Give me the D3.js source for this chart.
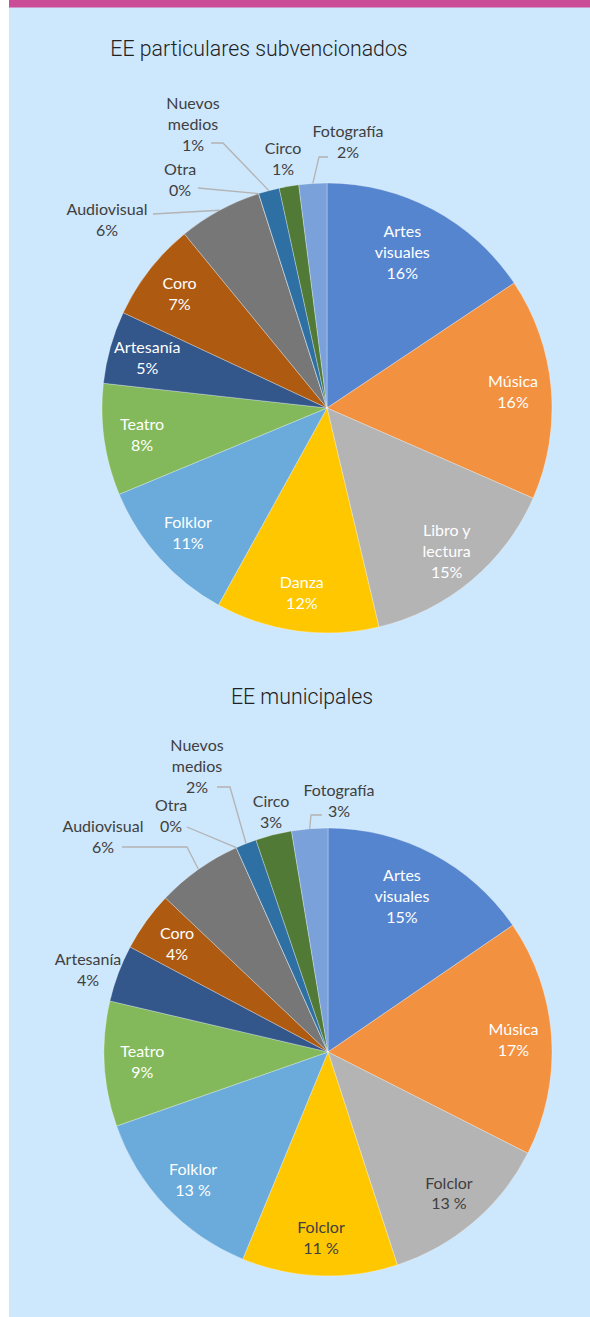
<!DOCTYPE html>
<html>
<head>
<meta charset="utf-8">
<script src="https://cdn.jsdelivr.net/npm/d3@7"></script>
<style>
  body { margin: 0; background: #fff; }
  svg { display: block; }
</style>
</head>
<body>
<div id="chart"></div>
<script>
// categories and values (share)
var namesA = ["Artes\nvisuales", "Música", "Libro y\nlectura", "Danza", "Folklor", "Teatro",
  "Artesanía", "Coro", "Audiovisual", "Otra", "Nuevos\nmedios", "Circo", "Fotografía"];
var valuesA = [15.6, 15.9, 14.7, 11.7, 10.7, 8.0, 5.2, 7.1, 6.0, 0, 1.5, 1.4, 2.0];
var pctA = ["16%", "16%", "15%", "12%", "11%", "8%", "5%", "7%", "6%", "0%", "1%", "1%", "2%"];

var namesB = ["Artes\nvisuales", "Música", "Folclor", "Folclor", "Folklor", "Teatro",
  "Artesanía", "Coro", "Audiovisual", "Otra", "Nuevos\nmedios", "Circo", "Fotografía"];
var valuesB = [15.4, 17.0, 12.5, 11.2, 13.4, 9.0, 4.1, 4.3, 6.2, 0, 1.5, 2.6, 2.6];
var pctB = ["15%", "17%", "13 %", "11 %", "13 %", "9%", "4%", "4%", "6%", "0%", "2%", "3%", "3%"];

var sliceColors = ["#5585cf", "#f2913f", "#b4b4b4", "#ffc700", "#6aabdc", "#83b95a",
  "#33578a", "#ae5a10", "#777777", "#a87f0a", "#2e70a3", "#527a37", "#7aa1da"];

// labels that sit outside the pie: text offset from centre, leader start, elbow x
var calloutsA = {
  8: { t: [-220, -188], s: [-174, -194] },
  9: { t: [-147, -228], s: [-129, -220] },
  10: { t: [-134, -284], s: [-116, -265], e: -104 },
  11: { t: [-44, -249] },
  12: { t: [21, -266], s: [1, -251], e: -8 }
};
var calloutsB = {
  6: { t: [-240, -82] },
  8: { t: [-225, -215], s: [-206, -205], e: -141 },
  9: { t: [-157, -236], s: [-141, -225] },
  10: { t: [-131, -286], s: [-111, -265], e: -98 },
  11: { t: [-57, -240] },
  12: { t: [11, -251], s: [-6, -237], e: -17 }
};

var width = 590, height = 1317;
var lineH = 20.8;

var svg = d3.select("#chart").append("svg")
  .attr("width", width)
  .attr("height", height);

svg.append("rect").attr("x", 9).attr("y", 0).attr("width", width - 9).attr("height", height)
  .attr("fill", "#cde7fd");
svg.append("rect").attr("x", 9).attr("y", 0).attr("width", width - 9).attr("height", 7.5)
  .attr("fill", "#cb4c97");

function drawPie(opts) {
  var r = opts.r;
  var g = svg.append("g").attr("transform", "translate(" + opts.cx + "," + opts.cy + ")");

  svg.append("text")
    .attr("x", opts.titleX)
    .attr("y", opts.titleY)
    .attr("text-anchor", "middle")
    .attr("font-family", "Roboto")
    .attr("font-weight", 300)
    .attr("font-size", 21.3)
    .attr("fill", "#222")
    .text(opts.title);

  var pie = d3.pie().sort(null).value(d => d)(opts.values);
  var arc = d3.arc().innerRadius(0).outerRadius(r);

  g.selectAll("path.slice")
    .data(pie)
    .join("path")
    .attr("class", "slice")
    .attr("d", arc)
    .attr("fill", (d, i) => sliceColors[i])
    .attr("stroke", "#ffffff")
    .attr("stroke-opacity", 0.5)
    .attr("stroke-width", 0.6);

  pie.forEach(function (d, i) {
    var c = opts.callouts[i];
    var lines = opts.names[i].split("\n").concat([opts.pct[i]]);
    var pos, fill;
    if (c) {
      pos = c.t;
      fill = "#404040";
      if (c.s) {
        var mid = (d.startAngle + d.endAngle) / 2;
        var edge = [Math.sin(mid) * r, -Math.cos(mid) * r];
        var pts = [c.s];
        if (c.e !== undefined) pts.push([c.e, c.s[1]]);
        pts.push(edge);
        g.append("path")
          .attr("d", d3.line()(pts))
          .attr("fill", "none")
          .attr("stroke", "#b3b3b3")
          .attr("stroke-width", 1.3);
      }
    } else {
      // first slice label sits a bit deeper, like the original
      var k = i === 0 ? 0.785 : 0.83;
      pos = d3.arc().innerRadius(r * k).outerRadius(r * k).centroid(d);
      if (i === 0) pos[0] -= 8;
      fill = opts.darkInside.indexOf(i) > -1 ? "#404040" : "#ffffff";
    }
    var t = g.append("text")
      .attr("text-anchor", "middle")
      .attr("font-family", "Lato")
      .attr("font-size", 16)
      .attr("fill", fill);
    lines.forEach(function (ln, j) {
      t.append("tspan")
        .attr("x", pos[0])
        .attr("y", pos[1] + (j - (lines.length - 1) / 2) * lineH)
        .attr("dy", "0.36em")
        .text(ln);
    });
  });
}

drawPie({
  title: "EE particulares subvencionados", titleX: 259, titleY: 56,
  cx: 327, cy: 408, r: 225,
  values: valuesA, names: namesA, pct: pctA,
  callouts: calloutsA, darkInside: []
});

drawPie({
  title: "EE municipales", titleX: 302, titleY: 704,
  cx: 328, cy: 1052, r: 224,
  values: valuesB, names: namesB, pct: pctB,
  callouts: calloutsB, darkInside: [2, 3]
});
</script>
</body>
</html>
